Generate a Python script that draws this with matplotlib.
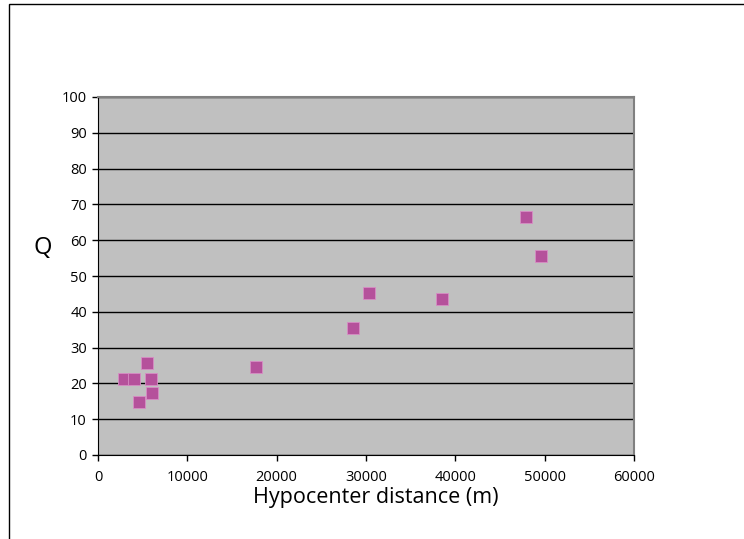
import matplotlib.pyplot as plt
from matplotlib.patches import Rectangle

# hypocenter distance (m) and Q
distance = [2900, 4000, 5500, 5900, 6100, 4600, 17700, 28550, 30350, 38500, 47900, 49600]
q_values = [21.2, 21.2, 25.7, 21.2, 17.4, 14.7, 24.5, 35.5, 45.3, 43.7, 66.6, 55.7]

x_ticks = [0, 10000, 20000, 30000, 40000, 50000, 60000]
y_ticks = [0, 10, 20, 30, 40, 50, 60, 70, 80, 90, 100]

plt.rcParams['font.family'] = ['Open Sans', 'DejaVu Sans']

fig = plt.figure(figsize=(7.44, 5.39), dpi=100)
# outer chart border like the spreadsheet frame
fig.patches.append(Rectangle((9 / 744, -0.1), 1.2, 1 - 4 / 539 + 0.1,
                             transform=fig.transFigure, fill=False,
                             edgecolor='black', linewidth=1.0))

ax = fig.add_axes([98 / 744, 1 - 455 / 539, 536 / 744, 358 / 539])
ax.set_facecolor('#c0c0c0')

ax.scatter(distance, q_values, marker='s', s=80, color='#b5519b',
           edgecolors='#d78cc4', linewidths=0.6, zorder=3)

ax.set_xlim(0, 60000)
ax.set_ylim(0, 100)
ax.set_xticks(x_ticks)
ax.set_yticks(y_ticks)
ax.tick_params(direction='out', length=4, width=1, labelsize=10.5)
ax.tick_params(axis='x', pad=7)
ax.tick_params(axis='y', pad=4)
ax.grid(axis='y', color='black', linewidth=1)
ax.set_axisbelow(True)

for side in ['left', 'bottom']:
    ax.spines[side].set_color('black')
for side in ['top', 'right']:
    ax.spines[side].set_color('#808080')
    ax.spines[side].set_linewidth(1.5)

ax.set_xlabel('Hypocenter distance (m)', fontsize=15.5, va='center')
ax.xaxis.set_label_coords(0.519, -0.12)
ax.set_ylabel('Q', fontsize=17, rotation=0, va='center', ha='center')
ax.yaxis.set_label_coords(-0.103, 0.578)

fig.savefig('out.png', dpi=100)
